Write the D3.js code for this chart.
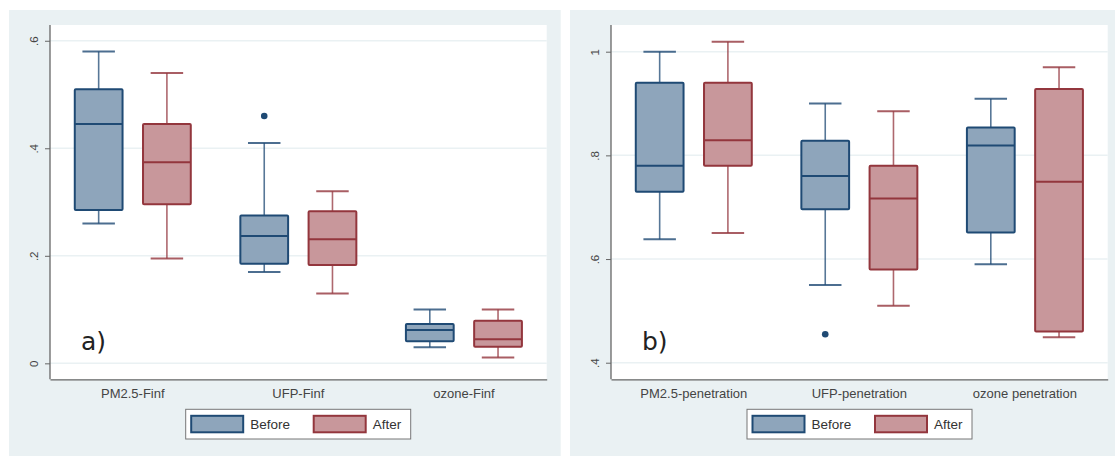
<!DOCTYPE html>
<html><head><meta charset="utf-8">
<script src="https://cdn.jsdelivr.net/npm/d3@7"></script>
<style>body{margin:0;background:#fff}svg{display:block}</style>
</head><body>
<svg id="c" width="1115" height="456"></svg>
<script>
// ---- data ----
const seriesNames = ["Before", "After"];
const catsA = ["PM2.5-Finf", "UFP-Finf", "ozone-Finf"];
// [lowerWhisker, q1, median, q3, upperWhisker]
const beforeA = [[0.26, 0.285, 0.445, 0.51, 0.58], [0.17, 0.185, 0.237, 0.275, 0.41], [0.03, 0.041, 0.062, 0.073, 0.10]];
const afterA  = [[0.195, 0.296, 0.374, 0.445, 0.54], [0.13, 0.183, 0.231, 0.283, 0.32], [0.011, 0.031, 0.045, 0.079, 0.10]];
const outliersBeforeA = [[], [0.46], []];
const outliersAfterA = [[], [], []];
const ticksA = [0, 0.2, 0.4, 0.6];
const tickLabelsA = ["0", ".2", ".4", ".6"];

const catsB = ["PM2.5-penetration", "UFP-penetration", "ozone penetration"];
const beforeB = [[0.638, 0.73, 0.78, 0.94, 1.0], [0.55, 0.696, 0.76, 0.828, 0.90], [0.59, 0.651, 0.819, 0.854, 0.909]];
const afterB  = [[0.65, 0.78, 0.829, 0.94, 1.019], [0.51, 0.58, 0.717, 0.78, 0.885], [0.449, 0.46, 0.749, 0.928, 0.97]];
const outliersBeforeB = [[], [0.455], []];
const outliersAfterB = [[], [], []];
const ticksB = [0.4, 0.6, 0.8, 1.0];
const tickLabelsB = [".4", ".6", ".8", "1"];

const colors = {
  Before: {fill: "#8ea5bb", stroke: "#1f4a74"},
  After: {fill: "#c8979b", stroke: "#93363d"}
};

const svg = d3.select("#c");
const font = "'Liberation Sans', Arial, sans-serif";

function panel(cfg) {
  const g = svg.append("g");
  g.append("rect").attr("x", cfg.bx0).attr("y", 10).attr("width", cfg.bx1 - cfg.bx0).attr("height", 446).attr("fill", "#eaf1f3");
  const x0 = cfg.px0, x1 = cfg.px1, yTop = 25, yBot = 379.3;
  g.append("rect").attr("x", x0).attr("y", yTop).attr("width", x1 - x0).attr("height", yBot - yTop).attr("fill", "#fff");
  const y = d3.scaleLinear().domain(cfg.ydom).range([yBot, yTop]);
  const xb = d3.scaleBand().domain(cfg.cats).range([x0, x1]);
  const xs = d3.scaleBand().domain(seriesNames).range([-58, 58]).paddingInner(0.3);

  // gridlines
  g.append("g").selectAll("line").data(cfg.ticks).join("line")
    .attr("x1", x0).attr("x2", x1).attr("y1", d => y(d)).attr("y2", d => y(d))
    .attr("stroke", "#eaf1f3").attr("stroke-width", 1.5);

  // y axis
  const ya = d3.axisLeft(y).tickValues(cfg.ticks).tickFormat((d, i) => cfg.tickLabels[i]).tickSize(5).tickSizeOuter(0);
  const yg = g.append("g").attr("transform", `translate(${x0},0)`).call(ya);
  yg.select(".domain").attr("stroke", "#666").attr("stroke-width", 1.3).attr("d", `M0,${yTop}V${yBot}`);
  yg.selectAll(".tick line").attr("stroke", "#666");
  yg.selectAll(".tick text").attr("font-family", font).attr("font-size", 11.5).attr("fill", "#444")
    .attr("transform", function(d) { return `rotate(-90, ${-16}, 0)`; })
    .attr("x", -16).attr("dy", "0.35em").attr("text-anchor", "middle");

  // x axis
  const xa = d3.axisBottom(xb).tickSize(0).tickSizeOuter(0);
  const xg = g.append("g").attr("transform", `translate(0,${yBot})`).call(xa);
  xg.select(".domain").attr("stroke", "#666").attr("stroke-width", 1.3);
  xg.selectAll(".tick text").attr("font-family", font).attr("font-size", 13).attr("fill", "#444").attr("dy", "1.2em");

  // boxes
  const data = [];
  cfg.cats.forEach((c, i) => {
    data.push({cat: c, s: "Before", v: cfg.before[i], out: cfg.outB[i]});
    data.push({cat: c, s: "After", v: cfg.after[i], out: cfg.outA[i]});
  });
  const bw = xs.bandwidth();
  data.forEach(d => {
    const cx = xb(d.cat) + xb.bandwidth() / 2 + xs(d.s) + bw / 2;
    const col = colors[d.s];
    const bg = g.append("g");
    const [lw, q1, md, q3, uw] = d.v;
    // whiskers
    bg.append("line").attr("x1", cx).attr("x2", cx).attr("y1", y(uw)).attr("y2", y(q3)).attr("stroke", col.stroke).attr("stroke-width", 1.6).attr("stroke-opacity", 0.75);
    bg.append("line").attr("x1", cx).attr("x2", cx).attr("y1", y(q1)).attr("y2", y(lw)).attr("stroke", col.stroke).attr("stroke-width", 1.6).attr("stroke-opacity", 0.75);
    const cw = bw * 0.68;
    [uw, lw].forEach(v => bg.append("line").attr("x1", cx - cw / 2).attr("x2", cx + cw / 2).attr("y1", y(v)).attr("y2", y(v)).attr("stroke", col.stroke).attr("stroke-width", 2).attr("stroke-opacity", 0.8));
    bg.append("rect").attr("x", cx - bw / 2).attr("y", y(q3)).attr("width", bw).attr("height", y(q1) - y(q3))
      .attr("fill", col.fill).attr("stroke", col.stroke).attr("stroke-width", 2).attr("rx", 1);
    bg.append("line").attr("x1", cx - bw / 2).attr("x2", cx + bw / 2).attr("y1", y(md)).attr("y2", y(md)).attr("stroke", col.stroke).attr("stroke-width", 2);
    d.out.forEach(o => bg.append("circle").attr("cx", cx).attr("cy", y(o)).attr("r", 3.3).attr("fill", col.stroke));
  });

  // panel label
  g.append("text").attr("x", x0 + 31).attr("y", 350).attr("font-family", "'DejaVu Sans', sans-serif").attr("font-size", 25).attr("fill", "#222").text(cfg.label);

  // legend
  const lx = cfg.legX, ly = 409.3;
  g.append("rect").attr("x", lx).attr("y", ly).attr("width", 225).attr("height", 29.7).attr("fill", "#fff").attr("stroke", "#777").attr("stroke-width", 1);
  const lg = g.selectAll(".lg").data(seriesNames).join("g").attr("transform", (d, i) => `translate(${lx + 5.5 + i * 122.5},${ly + 6.5})`);
  lg.append("rect").attr("width", 52).attr("height", 16.5).attr("fill", d => colors[d].fill).attr("stroke", d => colors[d].stroke).attr("stroke-width", 2);
  lg.append("text").attr("x", 59).attr("y", 8.5).attr("dy", "0.35em").attr("font-family", font).attr("font-size", 13.5).attr("fill", "#333").text(d => d);
}

panel({bx0: 9, bx1: 560.7, px0: 50, px1: 546.7, ydom: [-0.0297, 0.6293], cats: catsA, before: beforeA, after: afterA,
  outB: outliersBeforeA, outA: outliersAfterA, ticks: ticksA, tickLabels: tickLabelsA, label: "a)", legX: 185.7});
panel({bx0: 570, bx1: 1115, px0: 611, px1: 1107.7, ydom: [0.368, 1.0515], cats: catsB, before: beforeB, after: afterB,
  outB: outliersBeforeB, outA: outliersAfterB, ticks: ticksB, tickLabels: tickLabelsB, label: "b)", legX: 747});
</script>
</body></html>
